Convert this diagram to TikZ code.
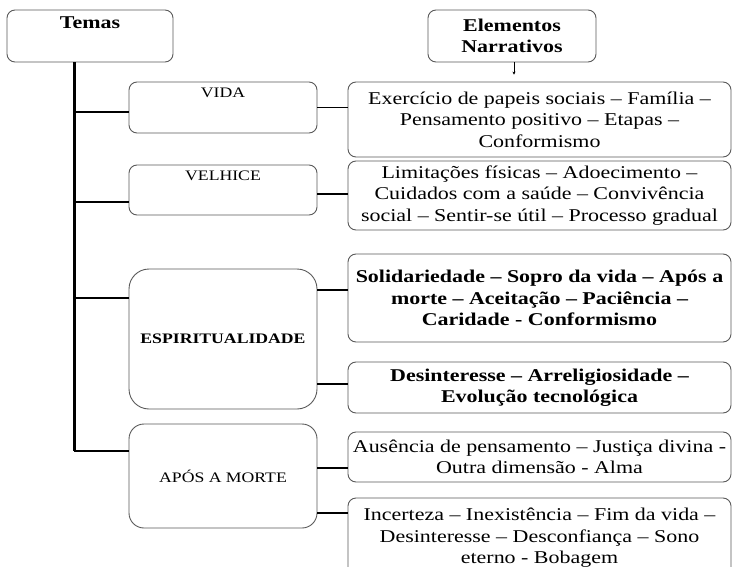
\documentclass[tikz,border=0pt]{standalone}
\usepackage{fontspec}
\setmainfont[FakeStretch=1.22]{Liberation Serif}
\usepackage{tikz}
\usetikzlibrary{shapes.geometric, arrows.meta, positioning}

\begin{document}
\begin{tikzpicture}[x=1pt, y=-1pt,
    box/.style={draw=black!65, line width=0.9pt, rounded corners=8pt, inner sep=0pt},
    theme/.style={box, minimum width=188pt, font=\fontsize{14.5}{17}\selectfont},
    themelabel/.style={anchor=north, yshift=-3pt, font=\fontsize{14.5}{17}\selectfont},
    elem/.style={box, minimum width=383pt, align=center, font=\fontsize{18}{21.5}\selectfont},
    link/.style={line width=1.4pt},
    ]
    \useasboundingbox (0,0) rectangle (733,567);

    % Headers
    \node[box, minimum width=166pt, minimum height=52pt,
          label={[anchor=north, yshift=-4pt, font=\fontsize{18}{21}\selectfont\bfseries]north:Temas}] (temas) at (90,36) {};
    \node[box, minimum width=168pt, minimum height=52pt, align=center,
          font=\fontsize{18}{21.5}\selectfont\bfseries] (narr) at (512,36) {Elementos\\Narrativos};

    % Themes
    \node[theme, minimum height=51pt, label={[themelabel]north:VIDA}] (vida) at (223,107.5) {};
    \node[theme, minimum height=50pt, label={[themelabel]north:VELHICE}] (velhice) at (223,190) {};
    \node[theme, minimum height=140pt, rounded corners=20pt, font=\fontsize{14.5}{17}\selectfont\bfseries] (espi) at (223,339) {ESPIRITUALIDADE};
    \node[theme, minimum height=104pt, rounded corners=15pt] (apos) at (223,476) {APÓS A MORTE};

    % Narrative elements
    \node[elem, minimum height=75pt] (en1) at (539.5,119.5)
        {Exercício de papeis sociais -- Família --\\Pensamento positivo -- Etapas --\\Conformismo};
    \node[elem, minimum height=69pt] (en2) at (539.5,195.5)
        {Limitações físicas -- Adoecimento --\\Cuidados com a saúde -- Convivência\\social -- Sentir-se útil -- Processo gradual};
    \node[elem, minimum height=88pt, font=\fontsize{18}{21.5}\selectfont\bfseries] (en3) at (539.5,298)
        {Solidariedade -- Sopro da vida -- Após a\\morte -- Aceitação -- Paciência --\\Caridade - Conformismo};
    \node[elem, minimum height=51pt, font=\fontsize{18}{21.5}\selectfont\bfseries] (en4) at (539.5,387.5)
        {Desinteresse -- Arreligiosidade --\\Evolução tecnológica};
    \node[elem, minimum height=50pt] (en5) at (539.5,457)
        {Ausência de pensamento -- Justiça divina -\\Outra dimensão - Alma};
    \node[elem, minimum height=80pt] (en6) at (539.5,538)
        {Incerteza -- Inexistência -- Fim da vida --\\Desinteresse -- Desconfiança -- Sono\\eterno - Bobagem};

    % Tree lines
    \coordinate (trunk) at ([xshift=68pt]temas.south west);
    \foreach \n/\s in {vida/-4.5, velhice/-12, espi/41, apos/25}
        \draw[link] (trunk) |- ([yshift=\s pt]\n.west);
    \draw[line width=2.2pt] (trunk) -- ([yshift=25pt]apos.west -| trunk);

    \draw[link] (vida.east) -- (vida.east -| en1.west);
    \draw[link] ([yshift=-4pt]velhice.east) -- ([yshift=-4pt]velhice.east -| en2.west);
    \draw[link] ([yshift=49pt]espi.east) -- ([yshift=49pt]espi.east -| en3.west);
    \draw[link] ([yshift=-45pt]espi.east) -- ([yshift=-45pt]espi.east -| en4.west);
    \draw[link] ([yshift=8pt]apos.east) -- ([yshift=8pt]apos.east -| en5.west);
    \draw[link] ([yshift=-37pt]apos.east) -- ([yshift=-37pt]apos.east -| en6.west);

    \draw[-{Stealth[length=3pt, width=3pt]}] ([xshift=2pt]narr.south) -- ([xshift=2pt]narr.south |- en1.north) [shorten >=7pt];
\end{tikzpicture}
\end{document}
